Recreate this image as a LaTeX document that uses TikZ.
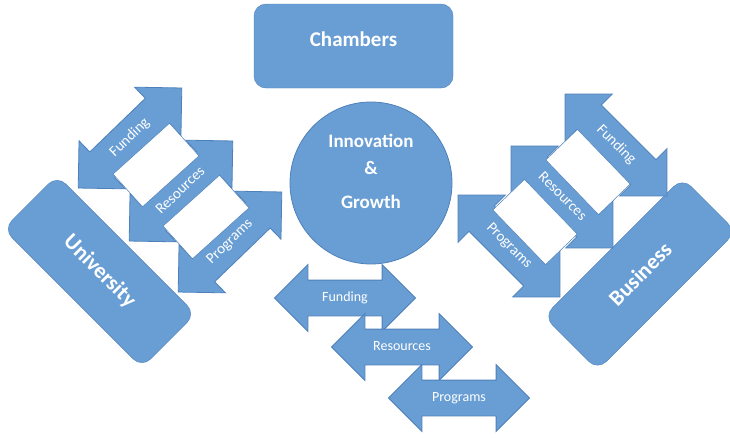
\documentclass[tikz,border=0pt]{standalone}
\usepackage{fontspec}
\setmainfont{Carlito}
\usetikzlibrary{shapes.arrows}
\definecolor{boxblue}{RGB}{105,158,212}
\definecolor{edgeblue}{RGB}{78,128,186}
\tikzset{
  block/.style={draw=edgeblue, fill=boxblue, rounded corners=12pt, text=white, font=\bfseries\fontsize{22}{22}\selectfont, minimum width=196pt, minimum height=76pt, inner sep=0pt},
  twoway/.style={double arrow, draw=edgeblue, fill=boxblue, line width=0.8pt, double arrow tip angle=90, double arrow head extend=15.5pt, minimum height=144pt, minimum width=66pt, inner xsep=0pt, inner ysep=11pt, text height=10pt, text depth=3pt, text=white, font=\fontsize{15}{15}\selectfont},
  gap/.style={draw=edgeblue, fill=white, line width=0.5pt, minimum width=76pt, minimum height=44pt, inner sep=0pt}
}
\begin{document}
\begin{tikzpicture}[x=1pt, y=-1pt]
\useasboundingbox (0,0) rectangle (730,437);
% Chambers and the hub
\node[block, minimum width=199pt, minimum height=84pt, font=\bfseries\fontsize{21}{21}\selectfont, text height=13pt, text depth=13pt] (chambers) at (353.5,46) {Chambers};
\node[circle, draw=edgeblue, fill=boxblue, line width=0.8pt, minimum size=162pt] (hub) at (371,183) {};
\node[anchor=north, inner sep=0pt, align=center, text=white, font=\bfseries\fontsize{19}{27}\selectfont] (hubtext) at (371,134) {Innovation\\\&\\[7pt]Growth};

% University side
\node[block, rotate=-45] (uni) at (99.5,271.5) {University};
\node[twoway, rotate=44] (fundU) at (130,138) {Funding};
\node[twoway, rotate=44] (resU) at (181,191) {Resources};
\node[twoway, rotate=44] (progU) at (230,242) {Programs};
\node[gap, rotate=42] (gapU1) at (156,165) {};
\node[gap, rotate=42] (gapU2) at (206,217) {};

% Business side
\node[block, rotate=45] (biz) at (640,274) {Business};
\node[twoway, rotate=-45] (fundB) at (616,145) {Funding};
\node[twoway, rotate=-45] (resB) at (562,197) {Resources};
\node[twoway, rotate=-45] (progB) at (509,246) {Programs};
\node[gap, rotate=-46] (gapB1) at (588,172) {};
\node[gap, rotate=-46] (gapB2) at (535,222) {};

% Bottom row
\node[twoway, minimum height=141pt, font=\fontsize{14}{14}\selectfont] (fundC) at (345,298) {Funding};
\node[twoway, minimum height=141pt, font=\fontsize{14}{14}\selectfont] (resC) at (402,347) {Resources};
\node[twoway, minimum height=141pt, font=\fontsize{14}{14}\selectfont] (progC) at (459,398) {Programs};
\end{tikzpicture}
\end{document}
